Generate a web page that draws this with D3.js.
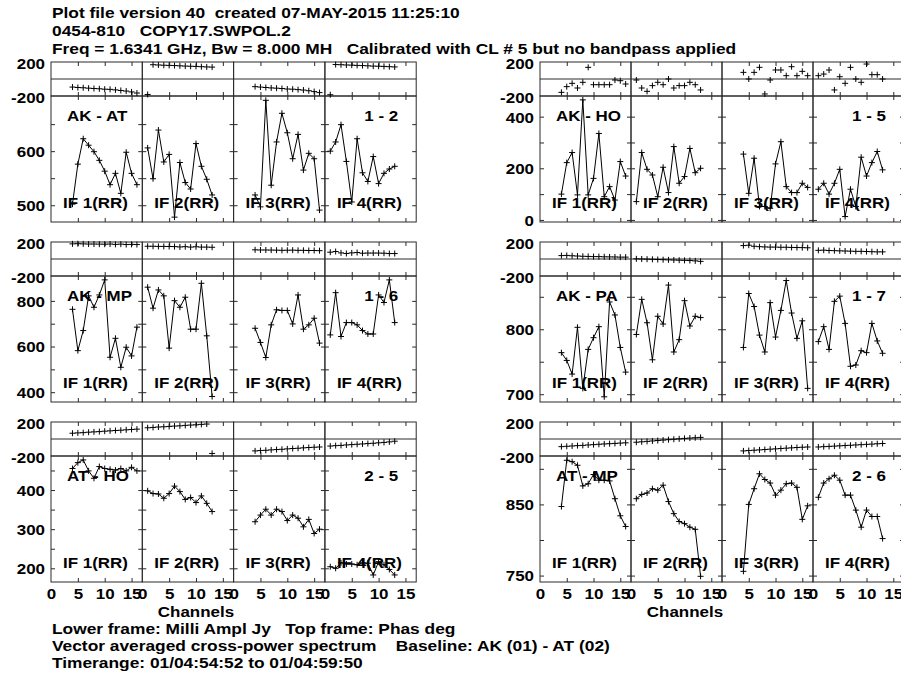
<!DOCTYPE html>
<html>
<head>
<meta charset="utf-8">
<script src="https://cdn.jsdelivr.net/npm/d3@7"></script>
<style>
  body { margin: 0; background: #fff; }
  svg text { font-family: "Liberation Sans", Arial, Helvetica, sans-serif; font-weight: bold; font-size: 15px; fill: #000; white-space: pre; }
</style>
</head>
<body>
<script>
// channels actually plotted in each IF (odd IFs 4..16, even IFs 1..13)
var chanOdd = [4, 5, 6, 7, 8, 9, 10, 11, 12, 13, 14, 15, 16];
var chanEven = [1, 2, 3, 4, 5, 6, 7, 8, 9, 10, 11, 12, 13];
var ifChannels = [chanOdd, chanEven, chanOdd, chanEven];
var ifLabels = ["IF 1(RR)", "IF 2(RR)", "IF 3(RR)", "IF 4(RR)"];
var channelTicks = [5, 10, 15];
var channelLabels = [0, 5, 10, 15];

var baselineNames = ["AK - AT", "AK - HO", "AK - MP", "AK - PA", "AT - HO", "AT - MP"];
var antennaPairs = ["1 - 2", "1 - 5", "1 - 6", "1 - 7", "2 - 5", "2 - 6"];

// amplitude (milli Jy), one row per IF
var akAtAmp = [
    [502, 576, 623, 611, 599, 583, 563, 538, 559, 522, 598, 559, 538],
    [606, 549, 639, 580, 594, 478, 579, 542, 530, 614, 572, 548, 519],
    [519, 497, 694, 537, 617, 670, 634, 586, 631, 565, 596, 586, 491],
    [600, 617, 649, 581, 506, 623, 560, 544, 590, 540, 559, 567, 572]
];
var akHoAmp = [
    [100, 222, 261, 97, 465, 97, 161, 335, 90, 129, 77, 226, 170],
    [71, 261, 196, 174, 90, 204, 106, 284, 142, 168, 277, 183, 200],
    [255, 103, 239, 52, 52, 45, 217, 303, 129, 106, 106, 142, 126],
    [119, 142, 100, 142, 196, 13, 119, 52, 243, 170, 222, 265, 194]
];
var akMpAmp = [
    [763, 582, 670, 822, 772, 826, 892, 553, 636, 509, 597, 559, 685],
    [860, 768, 848, 822, 593, 801, 772, 816, 676, 676, 877, 647, 381],
    [680, 618, 552, 695, 761, 758, 758, 699, 826, 676, 695, 724, 615],
    [651, 836, 644, 705, 705, 695, 670, 655, 655, 826, 793, 892, 705]
];
var akPaAmp = [
    [764, 752, 731, 803, 709, 769, 787, 804, 696, 842, 822, 772, 734],
    [792, 846, 810, 753, 820, 808, 868, 765, 784, 844, 805, 820, 818],
    [772, 855, 835, 791, 765, 841, 788, 829, 875, 825, 786, 813, 709],
    [781, 804, 769, 843, 851, 809, 743, 745, 767, 764, 809, 782, 763]
];
var atHoAmp = [
    [455, 470, 477, 449, 430, 460, 455, 453, 451, 455, 449, 458, 449],
    [398, 391, 390, 379, 391, 410, 396, 376, 381, 368, 385, 366, 345],
    [319, 336, 351, 336, 351, 345, 322, 336, 328, 306, 325, 289, 300],
    [204, 200, 214, 211, 211, 209, 214, 213, 183, 217, 209, 197, 183]
];
var atMpAmp = [
    [847, 912, 910, 905, 876, 879, 892, 884, 884, 883, 858, 834, 819],
    [858, 864, 866, 872, 870, 877, 854, 837, 826, 823, 818, 815, 749],
    [756, 850, 872, 893, 885, 880, 863, 870, 879, 880, 874, 829, 848],
    [860, 880, 886, 891, 884, 863, 863, 842, 818, 842, 833, 833, 802]
];

// phase (deg), one row per IF
var akAtPhase = [
    [-95, -100, -103, -108, -112, -115, -120, -122, -128, -135, -142, -152, -165],
    [-182, 168, 165, 162, 160, 158, 155, 152, 150, 148, 145, 142, 140],
    [-90, -95, -100, -105, -108, -112, -118, -120, -125, -130, -138, -148, -160],
    [-185, 170, 168, 165, 163, 160, 158, 155, 152, 150, 148, 145, 142]
];
var akHoPhase = [
    [-157, -90, -51, -106, -39, 137, -67, -67, -67, -67, -12, -20, -59],
    [-12, -106, -145, -78, -39, -67, 0, -106, -78, -78, -39, -67, -129],
    [78, 0, 78, 137, -176, -12, 106, 106, 39, 145, 39, 90, 39],
    [39, 58, 106, -129, 27, -51, 137, 0, -39, 176, 51, 51, 0]
];
var akMpPhase = [
    [178, 180, 178, 176, 176, 175, 174, 176, 172, 175, 170, 172, 170],
    [150, 150, 148, 148, 147, 146, 142, 145, 140, 144, 140, 140, 138],
    [108, 106, 106, 105, 104, 102, 103, 104, 102, 102, 100, 100, 98],
    [80, 88, 72, 65, 72, 76, 68, 70, 70, 70, 68, 64, 64]
];
var akPaPhase = [
    [40, 42, 38, 35, 32, 30, 28, 28, 26, 25, 24, 22, 22],
    [2, 0, -2, -4, -6, -8, -10, -12, -14, -16, -18, -22, -28],
    [158, 162, 150, 145, 142, 140, 140, 138, 138, 136, 135, 134, 132],
    [102, 104, 100, 98, 96, 94, 92, 90, 90, 88, 86, 84, 84]
];
var atHoPhase = [
    [68, 72, 75, 80, 84, 87, 92, 96, 100, 103, 108, 112, 116],
    [132, 136, 141, 144, 148, 152, 155, 160, 164, 167, 172, 176, -170],
    [-140, -136, -133, -128, -124, -121, -116, -112, -109, -104, -100, -97, -94],
    [-83, -78, -75, -70, -66, -62, -58, -54, -50, -45, -40, -34, -26]
];
var atMpPhase = [
    [-90, -86, -82, -78, -75, -70, -66, -62, -58, -55, -52, -48, -45],
    [-38, -33, -28, -23, -18, -13, -8, -3, 2, 7, 11, 15, 19],
    [-140, -136, -132, -128, -124, -120, -116, -112, -108, -104, -100, -97, -94],
    [-94, -90, -87, -84, -80, -77, -74, -70, -67, -63, -60, -56, -53]
];

var ampMin = [469, -8, 357, 688, 165, 741];
var ampMax = [702, 480, 909, 882, 487, 918];
var ampTicks = [[500, 550, 600, 650], [0, 100, 200, 300, 400], [400, 500, 600, 700, 800],
    [700, 750, 800, 850], [200, 250, 300, 350, 400, 450], [750, 800, 850, 900]];
var ampTickLabels = [[500, 600], [0, 200, 400], [400, 600, 800], [700, 800], [200, 300, 400], [750, 850]];
var phaseTickLabels = [200, -200];

var headerLines = [
    "Plot file version 40  created 07-MAY-2015 11:25:10",
    "0454-810   COPY17.SWPOL.2",
    "Freq = 1.6341 GHz, Bw = 8.000 MH   Calibrated with CL # 5 but no bandpass applied"
];
var footerLines = [
    "Lower frame: Milli Ampl Jy   Top frame: Phas deg",
    "Vector averaged cross-power spectrum    Baseline: AK (01) - AT (02)",
    "Timerange: 01/04:54:52 to 01/04:59:50"
];

var allAmp = [akAtAmp, akHoAmp, akMpAmp, akPaAmp, atHoAmp, atMpAmp];
var allPhase = [akAtPhase, akHoPhase, akMpPhase, akPaPhase, atHoPhase, atMpPhase];

// layout
var W = 901, H = 678;
var cols = [{ x0: 51, w: 91.3 }, { x0: 540, w: 91 }];
var rowPitch = 180, phaseTop0 = 62, phaseH = 34, ampH = 126;
var frameColor = "#2a2a2a";

var svg = d3.select("body").append("svg").attr("width", W).attr("height", H);

function stretcher(k) {
    return function (sel) {
        sel.each(function () {
            var n = this.getComputedTextLength();
            d3.select(this).attr("textLength", n * k).attr("lengthAdjust", "spacingAndGlyphs");
        });
    };
}
var stretch = stretcher(1.13);
var stretchWide = stretcher(1.155);

function plus(g, pts, size) {
    g.selectAll(null).data(pts).enter().append("path")
        .attr("d", function (d) {
            return "M" + (d[0] - size) + "," + d[1] + "H" + (d[0] + size) +
                "M" + d[0] + "," + (d[1] - size) + "V" + (d[1] + size);
        })
        .attr("stroke", "#000").attr("stroke-width", 1).attr("fill", "none");
}

function plainLabels(s) {
    s.select(".domain").remove();
    s.selectAll("text").attr("font-size", null).attr("font-family", null);
}

headerLines.forEach(function (t, i) {
    svg.append("text").attr("x", 52).attr("y", 18 + i * 18).text(t).call(stretchWide);
});
footerLines.forEach(function (t, i) {
    svg.append("text").attr("x", 52).attr("y", 634 + i * 17).text(t).call(stretchWide);
});

baselineNames.forEach(function (name, p) {
    var col = cols[p % 2];
    var row = Math.floor(p / 2);
    var phaseTop = phaseTop0 + row * rowPitch;
    var ampTop = phaseTop + phaseH;
    var ampBottom = ampTop + ampH;

    var yPh = d3.scaleLinear().domain([-200, 200]).range([ampTop, phaseTop]);
    var yAmp = d3.scaleLinear().domain([ampMin[p], ampMax[p]]).range([ampBottom, ampTop]);

    var panel = svg.append("g");

    for (var k = 0; k < 4; k++) {
        var left = col.x0 + k * col.w;
        var x = d3.scaleLinear().domain([0, 17]).range([left, left + col.w]);
        var g = panel.append("g");

        // frames
        g.append("rect").attr("x", left).attr("y", phaseTop).attr("width", col.w).attr("height", phaseH)
            .attr("fill", "none").attr("stroke", frameColor);
        g.append("rect").attr("x", left).attr("y", ampTop).attr("width", col.w).attr("height", ampH)
            .attr("fill", "none").attr("stroke", frameColor);
        g.append("line").attr("x1", left).attr("x2", left + col.w)
            .attr("y1", yPh(0)).attr("y2", yPh(0)).attr("stroke", frameColor);

        // channel ticks
        var tickAxes = [
            [d3.axisTop(x).tickSize(-4), phaseTop],
            [d3.axisBottom(x).tickSize(-4), ampTop],
            [d3.axisTop(x).tickSize(-4), ampTop],
            [d3.axisBottom(x).tickSize(-4), ampBottom]
        ];
        tickAxes.forEach(function (a) {
            g.append("g").attr("transform", "translate(0," + a[1] + ")")
                .call(a[0].tickValues(channelTicks).tickFormat(""))
                .call(function (s) { s.select(".domain").remove(); s.selectAll("line").attr("stroke", frameColor); });
        });

        // amplitude ticks on both sides of the sub-frame
        g.append("g").attr("transform", "translate(" + left + ",0)")
            .call(d3.axisLeft(yAmp).tickValues(ampTicks[p]).tickSize(-4).tickFormat(""))
            .call(function (s) { s.select(".domain").remove(); s.selectAll("line").attr("stroke", frameColor); });
        g.append("g").attr("transform", "translate(" + (left + col.w) + ",0)")
            .call(d3.axisRight(yAmp).tickValues(ampTicks[p]).tickSize(-4).tickFormat(""))
            .call(function (s) { s.select(".domain").remove(); s.selectAll("line").attr("stroke", frameColor); });

        // data
        var chans = ifChannels[k];
        var ampPts = chans.map(function (c, i) { return [x(c), yAmp(allAmp[p][k][i])]; });
        var phPts = chans.map(function (c, i) { return [x(c), yPh(allPhase[p][k][i])]; });

        g.append("path").attr("d", d3.line()(ampPts))
            .attr("fill", "none").attr("stroke", "#000").attr("stroke-width", 1);
        plus(g, ampPts, 3);
        plus(g, phPts, 3);

        // IF label
        g.append("text").attr("x", left + 12).attr("y", ampBottom - 14).text(ifLabels[k]).call(stretch);

        // channel labels along the bottom row
        if (row === 2) {
            var lab = g.append("g").attr("transform", "translate(0," + ampBottom + ")")
                .call(d3.axisBottom(x).tickValues(channelLabels).tickSize(0).tickPadding(6)
                    .tickFormat(String));
            plainLabels(lab);
            lab.selectAll("text").call(stretch);
        }
    }

    // amplitude and phase value labels
    var ya = panel.append("g").attr("transform", "translate(" + col.x0 + ",0)")
        .call(d3.axisLeft(yAmp).tickValues(ampTickLabels[p]).tickSize(0).tickPadding(6).tickFormat(String));
    plainLabels(ya);
    ya.selectAll("text").attr("dy", "0.36em").call(stretch);

    var yp = panel.append("g").attr("transform", "translate(" + col.x0 + ",0)")
        .call(d3.axisLeft(yPh).tickValues(phaseTickLabels).tickSize(0).tickPadding(6).tickFormat(String));
    plainLabels(yp);
    yp.selectAll("text").attr("dy", "0.4em").call(stretch);

    // baseline / antenna labels
    panel.append("text").attr("x", col.x0 + 16).attr("y", ampTop + 25).text(name).call(stretch);
    panel.append("text").attr("x", col.x0 + 4 * col.w - 18).attr("y", ampTop + 25)
        .attr("text-anchor", "end").text(antennaPairs[p]).call(stretch);

    if (row === 2) {
        panel.append("text").attr("x", col.x0 + 145).attr("y", 617)
            .attr("text-anchor", "middle").text("Channels").call(stretch);
    }
});
</script>
</body>
</html>
